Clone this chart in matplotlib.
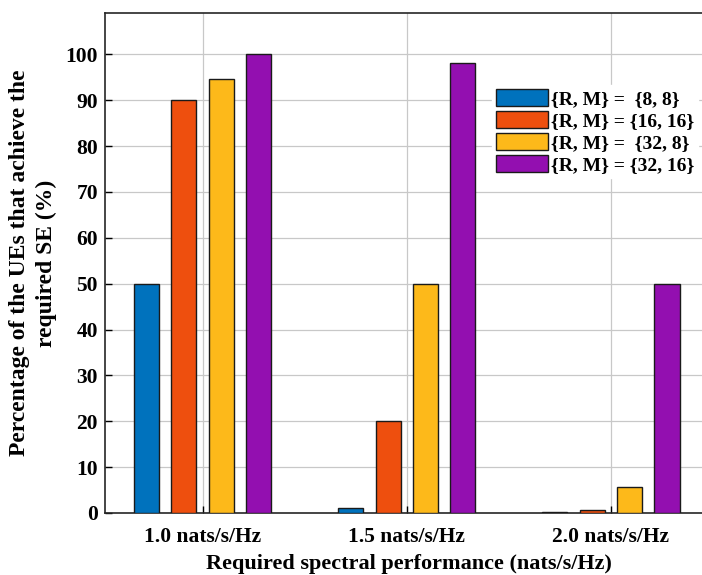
import numpy as np
import matplotlib
matplotlib.use("Agg")
import matplotlib.pyplot as plt

groups = ["1.0 nats/s/Hz", "1.5 nats/s/Hz", "2.0 nats/s/Hz"]
series_labels = [
    "{R, M} =  {8, 8}",
    "{R, M} = {16, 16}",
    "{R, M} =  {32, 8}",
    "{R, M} = {32, 16}",
]
rm_8_8 = [50, 1.0, 0.3]
rm_16_16 = [90, 20, 0.7]
rm_32_8 = [94.7, 50, 5.7]
rm_32_16 = [100, 98.2, 50]
colors = ["#0072BD", "#EE4F0E", "#FDB91A", "#930FB0"]

plt.rcParams["font.family"] = ["Liberation Serif", "DejaVu Serif"]
plt.rcParams["font.weight"] = "bold"

fig = plt.figure(figsize=(7.02, 5.75), dpi=100)
ax = fig.add_axes([105 / 702, 62 / 575, 608 / 702, 500 / 575])

x = np.arange(1, len(groups) + 1)
step = 0.183
width = 0.123
all_series = [rm_8_8, rm_16_16, rm_32_8, rm_32_16]
for i, (vals, col, lab) in enumerate(zip(all_series, colors, series_labels)):
    ax.bar(x + (i - 1.5) * step, vals, width, color=col, edgecolor="#1a1a1a",
           linewidth=1.0, label=lab, zorder=3)

ax.set_xlim(0.522, 3.5)
ax.set_ylim(0, 109)
ax.set_yticks(np.arange(0, 101, 10))
ax.set_xticks(x)
ax.set_xticklabels(groups)
ax.tick_params(direction="in", labelsize=15.5, length=5, width=1)
ax.tick_params(axis="x", pad=10)
ax.tick_params(axis="y", pad=5)
for lbl in ax.get_xticklabels() + ax.get_yticklabels():
    lbl.set_fontweight("bold")
ax.grid(True, color="#c8c8c8", linewidth=0.9, zorder=0)
for s in ax.spines.values():
    s.set_linewidth(1.2)
    s.set_color("#262626")

ax.set_xlabel("Required spectral performance (nats/s/Hz)", fontsize=16,
              fontweight="bold", labelpad=5)
ax.set_ylabel("Percentage of the UEs that achieve the\nrequired SE (%)",
              fontsize=17, fontweight="bold", labelpad=6, linespacing=1.35)

leg = ax.legend(loc="upper left", bbox_to_anchor=(0.62, 0.875),
                frameon=True, handlelength=2.7, handleheight=0.95,
                labelspacing=0.15, handletextpad=0.15, borderpad=0.2,
                fancybox=False, prop={"weight": "bold", "size": 14})
leg.get_frame().set_edgecolor("white")
leg.get_frame().set_facecolor("white")
leg.get_frame().set_alpha(1.0)

fig.savefig("out.png", dpi=100)
